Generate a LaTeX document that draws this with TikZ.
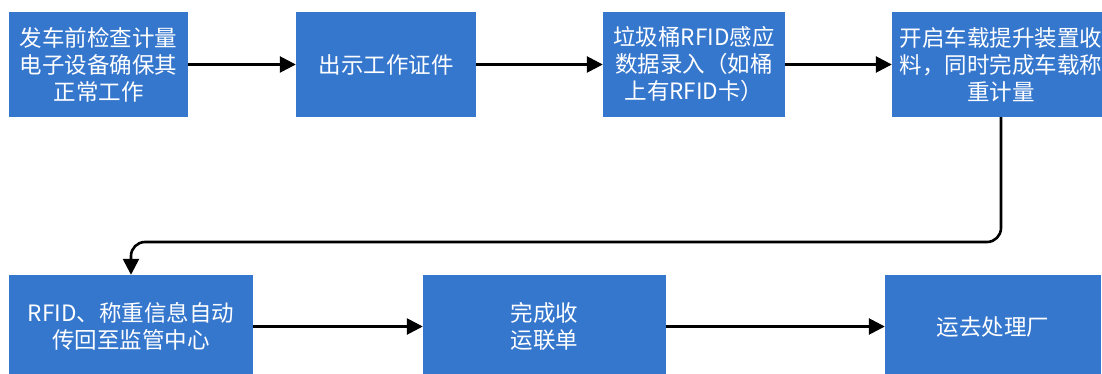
\documentclass[tikz,border=0pt]{standalone}
\usepackage{fontspec}
\setmainfont{Noto Sans CJK SC}
\usetikzlibrary{arrows.meta}
\definecolor{boxblue}{RGB}{54,119,206}
\begin{document}
\begin{tikzpicture}[x=1pt,y=-1pt,
  flowbox/.style={rectangle, fill=boxblue, text=white, inner sep=0pt, align=center,
    font=\fontsize{22.5pt}{27pt}\selectfont},
  flowarrow/.style={line width=2.6pt, -{Triangle[length=16pt,width=16pt]}}]
\useasboundingbox (0,0) rectangle (1102,374);
\clip (0,0) rectangle (1102,374);
\node[flowbox, minimum width=179pt, minimum height=105pt] (b1) at (98.5,64.5) {发车前检查计量\\电子设备确保其\\正常工作};
\node[flowbox, minimum width=180pt, minimum height=105pt] (b2) at (386,64.5) {出示工作证件};
\node[flowbox, minimum width=182pt, minimum height=105pt] (b3) at (694,64.5) {垃圾桶RFID感应\\数据录入（如桶\\上有RFID卡）};
\node[flowbox, minimum width=218pt, minimum height=105pt] (b4) at (1001,64.5) {开启车载提升装置收\\料，同时完成车载称\\重计量};
\node[flowbox, minimum width=244pt, minimum height=103pt] (b5) at (131,326.5) {RFID、称重信息自动\\传回至监管中心};
\node[flowbox, minimum width=243pt, minimum height=103pt] (b6) at (544.5,326.5) {完成收\\运联单};
\node[flowbox, minimum width=216pt, minimum height=103pt] (b7) at (993,326.5) {运去处理厂};
\coordinate (mid) at (560,242);
\draw[flowarrow] (b1) -- (b2);
\draw[flowarrow] (b2) -- (b3);
\draw[flowarrow] (b3) -- (b4);
\draw[flowarrow, rounded corners=14pt] (b4.south) |- (mid) -| (b5.north);
\draw[flowarrow] (b5) -- (b6);
\draw[flowarrow] (b6) -- (b7);
\end{tikzpicture}
\end{document}
